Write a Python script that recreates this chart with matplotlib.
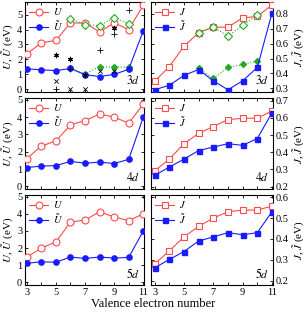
import matplotlib
matplotlib.use("Agg")
import matplotlib.pyplot as plt
from matplotlib.ticker import MultipleLocator, FixedLocator

plt.rcParams["font.family"] = "Liberation Serif"
plt.rcParams["mathtext.fontset"] = "stix"
plt.rcParams["font.size"] = 7.5

n = [3, 4, 5, 6, 7, 8, 9, 10, 11]
n_mid = [6, 7, 8, 9, 10]

# 3d
U_3d = [2.36, 3.10, 3.27, 4.44, 4.44, 3.84, 4.44, 4.00, 5.64]
Ut_3d = [1.36, 1.29, 1.24, 1.38, 0.96, 0.84, 0.98, 1.33, 3.91]
U_3d_green = [4.73, 4.33, 4.27, 4.80, 4.40]
Ut_3d_green = [1.40, 1.02, 1.51, 1.47, 1.47]
J_3d = [0.347, 0.446, 0.582, 0.674, 0.711, 0.711, 0.773, 0.783, 0.860]
Jt_3d = [0.290, 0.320, 0.387, 0.426, 0.350, 0.290, 0.350, 0.440, 0.805]
J_3d_green = [0.674, 0.711, 0.651, 0.723, 0.793]
Jt_3d_green = [0.434, 0.367, 0.440, 0.460, 0.483]

# other literature values (3d)
star_x = [5, 6, 7, 9]
star_y = [2.30, 2.00, 0.92, 4.10]
plus_x = [5, 6, 8, 9, 10]
plus_y = [0.00, 1.35, 2.60, 3.70, 5.30]
cross_x = [5, 6, 7, 8, 9]
cross_y = [0.55, 0.00, 0.00, 1.20, 1.20]

# 4d
U_4d = [1.60, 2.33, 2.62, 3.55, 3.80, 4.17, 4.00, 3.65, 4.74]
Ut_4d = [1.09, 1.17, 1.20, 1.44, 1.34, 1.40, 1.32, 1.56, 4.00]
J_4d = [0.292, 0.360, 0.450, 0.510, 0.550, 0.590, 0.598, 0.598, 0.640]
Jt_4d = [0.265, 0.314, 0.360, 0.410, 0.430, 0.450, 0.440, 0.480, 0.630]

# 5d
U_5d = [1.48, 2.00, 2.36, 3.52, 3.64, 4.12, 3.82, 3.60, 4.00]
Ut_5d = [1.12, 1.20, 1.18, 1.48, 1.40, 1.48, 1.42, 1.46, 3.00]
J_5d = [0.280, 0.343, 0.410, 0.460, 0.500, 0.530, 0.538, 0.538, 0.557]
Jt_5d = [0.262, 0.302, 0.340, 0.390, 0.410, 0.430, 0.420, 0.430, 0.530]

xticks = [3, 5, 7, 9, 11]

red = "#ff4a4a"
blue = "#1a1aff"
green = "#22aa22"

fig = plt.figure(figsize=(3.06, 3.13), dpi=100)
W, H = 306, 313
rows = [(2, 92), (98, 189), (195, 285)]
labels = ["3", "4", "5"]
Us = [U_3d, U_4d, U_5d]
Uts = [Ut_3d, Ut_4d, Ut_5d]
Js = [J_3d, J_4d, J_5d]
Jts = [Jt_3d, Jt_4d, Jt_5d]
uylims = [(-0.2, 5.85), (-0.15, 5.1), (-0.15, 5.1)]
jylims = [(0.275, 0.88), (0.186, 0.716), (0.18, 0.61)]


def style(ax):
    ax.tick_params(direction="in", top=True, right=True, length=2.5, width=0.6, pad=2)
    ax.tick_params(which="minor", direction="in", top=True, right=True, length=2.5, width=0.6)
    for s in ax.spines.values():
        s.set_linewidth(0.8)
    ax.xaxis.set_major_locator(FixedLocator(xticks))
    ax.xaxis.set_minor_locator(MultipleLocator(1))


for i, (t, b) in enumerate(rows):
    y0 = 1 - b / H
    h = (b - t) / H
    axl = fig.add_axes([25 / W, y0, (144 - 25) / W, h])
    axr = fig.add_axes([151 / W, y0, (273 - 151) / W, h])

    axl.plot(n, Us[i], "-o", color=red, mfc="white", mec=red, ms=5, lw=0.8, mew=0.8, label="$U$", zorder=3)
    axl.plot(n, Uts[i], "-o", color=blue, mfc=blue, mec=blue, ms=3.8, lw=0.8, label=r"$\tilde{U}$", zorder=3)
    axr.plot(n, Js[i], "-s", color=red, mfc="white", mec=red, ms=4.5, lw=0.8, mew=0.8, label="$J$", zorder=3)
    axr.plot(n, Jts[i], "-s", color=blue, mfc=blue, mec=blue, ms=3.6, lw=0.8, label=r"$\tilde{J}$", zorder=3)

    if i == 0:
        axl.plot(n_mid, U_3d_green, ":D", color=green, mfc="white", mec=green, ms=4, lw=0.8, mew=0.8, zorder=4)
        axl.plot(n_mid, Ut_3d_green, ":D", color=green, mfc=green, ms=3, lw=0.8, zorder=2)
        axr.plot(n_mid, J_3d_green, ":D", color=green, mfc="white", mec=green, ms=4, lw=0.8, mew=0.8, zorder=4)
        axr.plot(n_mid, Jt_3d_green, ":D", color=green, mfc=green, ms=3, lw=0.8, zorder=2)
        axl.scatter(star_x, star_y, s=8, color="#666666", lw=0, zorder=5)
        axl.scatter(star_x, star_y, s=12, marker=(6, 2, 0), color="black", lw=0.6, zorder=6)
        axl.scatter(plus_x, plus_y, s=16, marker="+", color="black", lw=0.6, zorder=5)
        axl.scatter(cross_x, cross_y, s=10, marker="x", color="black", lw=0.6, zorder=5)

    axl.set_xlim(2.88, 11.05)
    axr.set_xlim(2.75, 11.07)
    axl.set_ylim(*uylims[i])
    axr.set_ylim(*jylims[i])
    style(axl)
    style(axr)
    axl.yaxis.set_major_locator(MultipleLocator(1))
    axr.yaxis.set_major_locator(MultipleLocator(0.1))
    axr.yaxis.tick_right()
    axr.tick_params(left=True, labelleft=False, labelright=True)
    axr.yaxis.set_label_position("right")
    axr.yaxis.set_major_formatter(plt.FuncFormatter(lambda v, p: f"{v:.1f}"))

    axl.set_ylabel(r"$U$, $\tilde{U}$ (eV)", labelpad=1, fontsize=8)
    axr.set_ylabel(r"$J$, $\tilde{J}$ (eV)", labelpad=2, fontsize=8)

    if i < 2:
        axl.tick_params(labelbottom=False)
        axr.tick_params(labelbottom=False)

    axl.text(0.97, 0.05, "$" + labels[i] + r"d$", transform=axl.transAxes, ha="right", va="bottom", fontsize=8.5)
    axr.text(0.97, 0.05, "$" + labels[i] + r"d$", transform=axr.transAxes, ha="right", va="bottom", fontsize=8.5)

    axl.legend(loc="upper left", frameon=False, handlelength=1.8, borderpad=0.2, labelspacing=0.15,
               handletextpad=0.5, borderaxespad=0.2, fontsize=7.5)
    axr.legend(loc="upper left", frameon=False, handlelength=1.8, borderpad=0.2, labelspacing=0.15,
               handletextpad=0.5, borderaxespad=0.2, fontsize=7.5)

fig.text(0.5, 0.008, "Valence electron number", ha="center", va="bottom", fontsize=9)

fig.savefig("out.png", dpi=100)
